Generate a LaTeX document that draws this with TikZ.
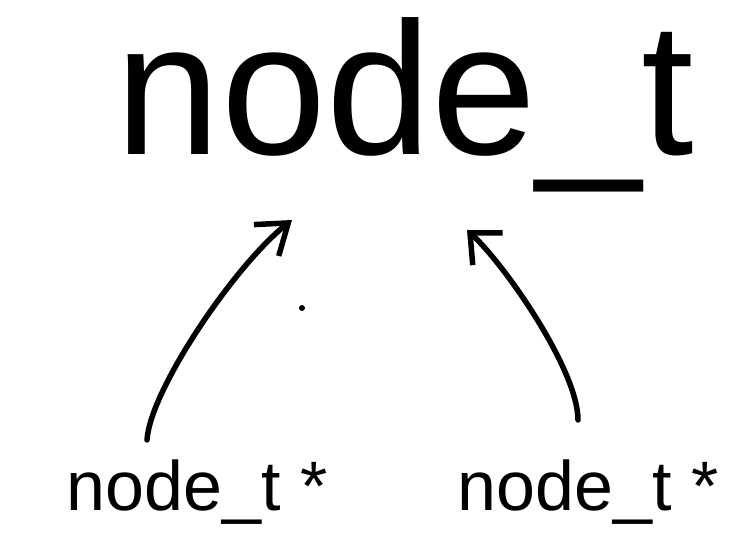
\documentclass[tikz,border=0pt]{standalone}
\usepackage{fontspec}
\setmainfont{Liberation Sans}
\usetikzlibrary{positioning,arrows.meta}

\begin{document}
\begin{tikzpicture}[
  x=1pt, y=-1pt,
  big/.style={inner sep=0pt, anchor=base, font=\fontsize{189}{190}\selectfont},
  ptr/.style={inner sep=0pt, anchor=base, font=\fontsize{70}{72}\selectfont},
  hand/.style={line width=5.5pt, line cap=round, line join=round}
]
  \useasboundingbox (0,0) rectangle (750,540);

  \node[big] (head) at (405,155) {node\_t};
  \node[ptr] (left) at (197,510) {node\_t *};
  \node[ptr] (right) at (588,510) {node\_t *};

  % arrow ends
  \coordinate (ltail) at (147,440);
  \coordinate (ltip) at (292,220);
  \coordinate (rtail) at (578,420);
  \coordinate (rtip) at (467,230);

  \draw[hand, -{Straight Barb[length=28pt, width=40pt]}]
    (ltail) .. controls (150,390) and (235,265) .. (ltip);
  \draw[hand, -{Straight Barb[length=24pt, width=44pt]}]
    (rtail) .. controls (578,370) and (505,265) .. (rtip);

  \fill (302,308) circle (3pt);
\end{tikzpicture}
\end{document}
